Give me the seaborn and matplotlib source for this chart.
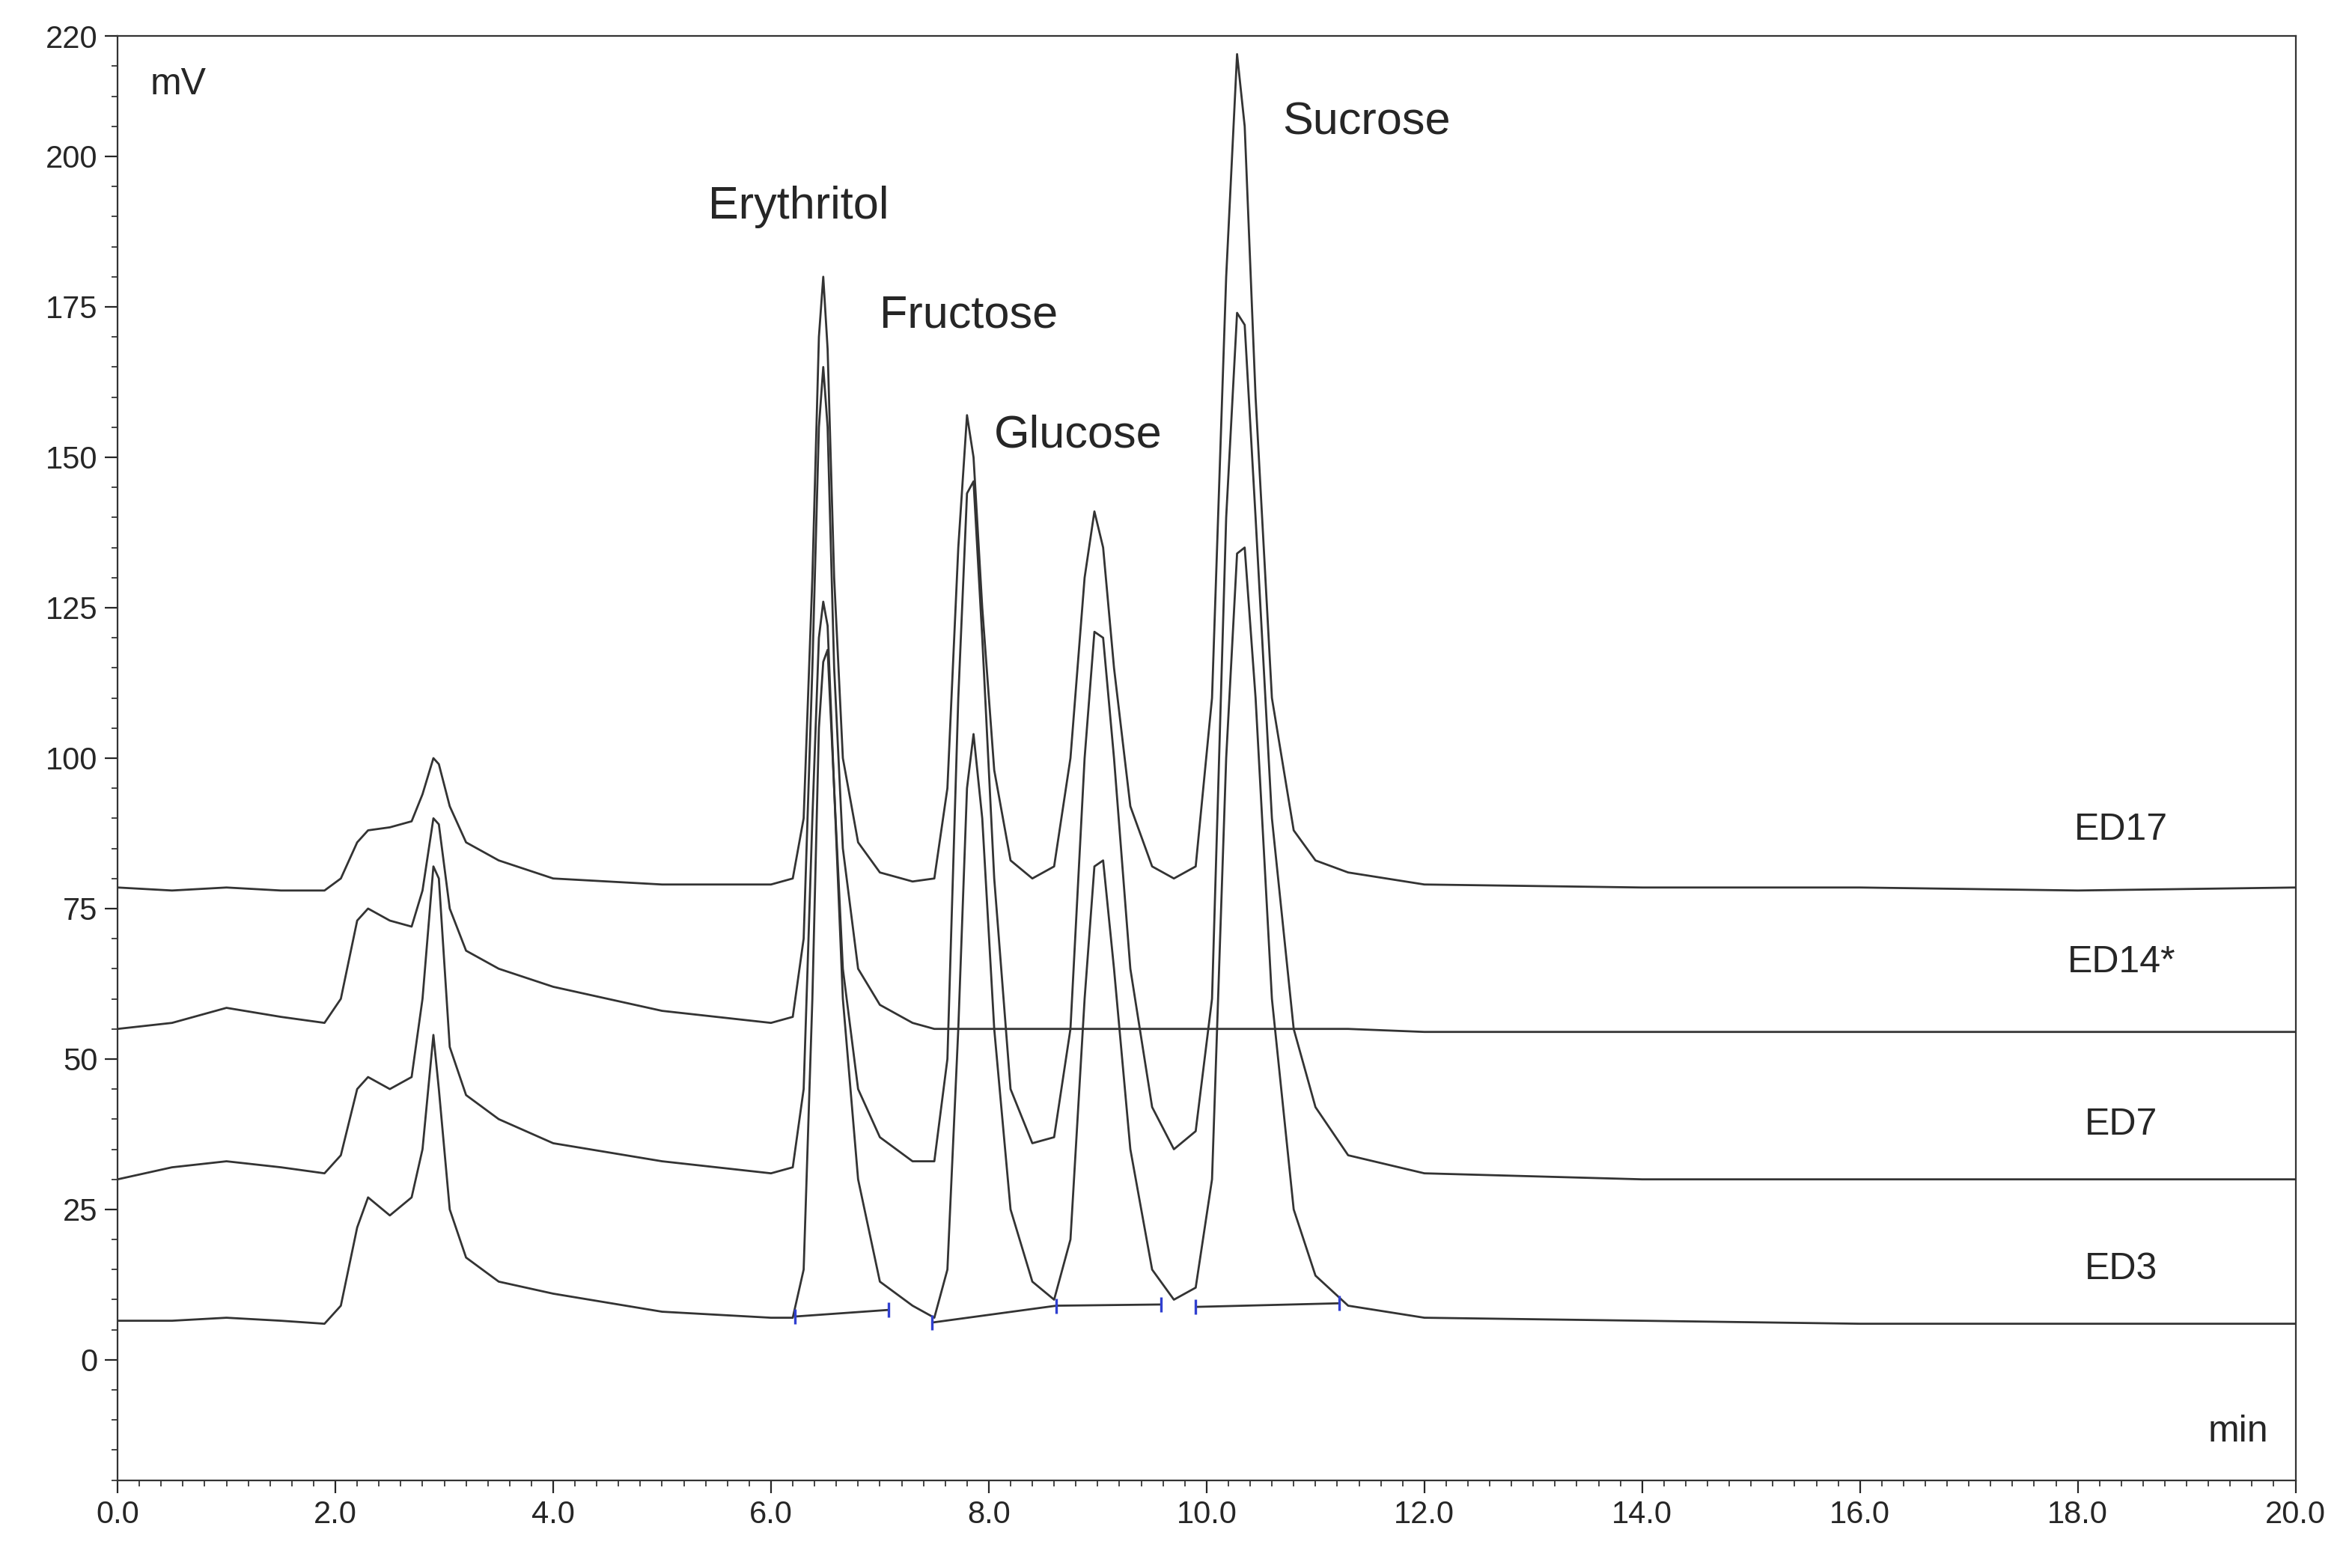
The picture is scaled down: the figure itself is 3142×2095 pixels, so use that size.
import numpy as np
import pandas as pd
import matplotlib
matplotlib.use("Agg")
import matplotlib.pyplot as plt
import seaborn as sns
from matplotlib.ticker import MultipleLocator

sns.set_style("ticks")
plt.rcParams['font.family'] = ['Liberation Sans', 'DejaVu Sans']

# time grid (min)
t = [0, 0.5, 1.0, 1.5, 1.9, 2.05, 2.2, 2.3, 2.5, 2.7, 2.8, 2.9, 2.95, 3.05, 3.2, 3.5, 4.0, 5.0,
     6.0, 6.2, 6.3, 6.38, 6.44, 6.48, 6.52, 6.58, 6.66, 6.8, 7.0, 7.3, 7.5, 7.62, 7.72, 7.8,
     7.86, 7.94, 8.05, 8.2, 8.4, 8.6, 8.75, 8.88, 8.97, 9.05, 9.15, 9.3, 9.5, 9.7, 9.9, 10.05,
     10.18, 10.28, 10.35, 10.45, 10.6, 10.8, 11.0, 11.3, 12.0, 14.0, 16.0, 18.0, 20.0]

ed17 = [78.5, 78, 78.5, 78, 78, 80, 86, 88, 88.5, 89.5, 94, 100, 99, 92, 86, 83, 80, 79,
        79, 80, 90, 130, 170, 180, 168, 130, 100, 86, 81, 79.5, 80, 95, 135, 157,
        150, 125, 98, 83, 80, 82, 100, 130, 141, 135, 115, 92, 82, 80, 82, 110,
        180, 217, 205, 160, 110, 88, 83, 81, 79, 78.5, 78.5, 78, 78.5]
ed14 = [55, 56, 58.5, 57, 56, 60, 73, 75, 73, 72, 78, 90, 89, 75, 68, 65, 62, 58,
        56, 57, 70, 115, 155, 165, 155, 115, 85, 65, 59, 56, 55, 55, 55, 55,
        55, 55, 55, 55, 55, 55, 55, 55, 55, 55, 55, 55, 55, 55, 55, 55,
        55, 55, 55, 55, 55, 55, 55, 55, 54.5, 54.5, 54.5, 54.5, 54.5]
ed7 = [30, 32, 33, 32, 31, 34, 45, 47, 45, 47, 60, 82, 80, 52, 44, 40, 36, 33,
       31, 32, 45, 90, 120, 126, 122, 95, 65, 45, 37, 33, 33, 50, 110, 144,
       146, 120, 80, 45, 36, 37, 55, 100, 121, 120, 100, 65, 42, 35, 38, 60,
       140, 174, 172, 140, 90, 55, 42, 34, 31, 30, 30, 30, 30]
ed3 = [6.5, 6.5, 7, 6.5, 6, 9, 22, 27, 24, 27, 35, 54, 45, 25, 17, 13, 11, 8,
       7, 7, 15, 60, 105, 116, 118, 95, 60, 30, 13, 9, 7, 15, 55, 95,
       104, 90, 55, 25, 13, 10, 20, 60, 82, 83, 65, 35, 15, 10, 12, 30,
       100, 134, 135, 110, 60, 25, 14, 9, 7, 6.5, 6, 6, 6]

traces = {"ED17": ed17, "ED14*": ed14, "ED7": ed7, "ED3": ed3}
trace_labels = [("ED17", 18.4, 88), ("ED14*", 18.4, 66), ("ED7", 18.4, 39), ("ED3", 18.4, 15)]

# integration baselines on ED3
base_t = [[6.22, 7.08], [7.48, 8.62, 9.58], [9.9, 11.22]]
base_y = [[7.2, 8.3], [6.2, 9.0, 9.2], [8.8, 9.4]]

peaks = [("Erythritol", 5.42, 188), ("Fructose", 7.0, 170), ("Glucose", 8.05, 150), ("Sucrose", 10.7, 202)]

yticks = [0, 25, 50, 75, 100, 125, 150, 175, 200, 220]
xticks = np.arange(0, 20.1, 2)

df = pd.concat([pd.DataFrame({"t": t, "mV": v, "trace": k}) for k, v in traces.items()])

fig = plt.figure(figsize=(15.71, 10.475), dpi=200)
ax = fig.add_axes([0.05, 0.056, 0.926, 0.921])
sns.lineplot(data=df, x="t", y="mV", units="trace", estimator=None, color="#333333",
             lw=1.0, ax=ax, legend=False, sort=False)
for bt, by in zip(base_t, base_y):
    ax.plot(bt, by, color="#333333", lw=1.0)
    ax.plot(bt, by, ls="none", marker="|", ms=7, color="#3040d0", mew=1.2)

for name, x, y in peaks:
    ax.text(x, y, name, fontsize=22, va="bottom")
for name, x, y in trace_labels:
    ax.text(x, y, name, fontsize=18, ha="center", va="center")
ax.text(0.3, 212, "mV", fontsize=18, va="center")
ax.text(19.75, -12, "min", fontsize=18, ha="right", va="center")

ax.set_xlim(0, 20)
ax.set_ylim(-20, 220)
ax.set_xticks(xticks)
ax.set_xticklabels([f"{v:.1f}" for v in xticks])
ax.set_yticks(yticks)
ax.xaxis.set_minor_locator(MultipleLocator(0.2))
ax.yaxis.set_minor_locator(MultipleLocator(5))
ax.tick_params(labelsize=15, direction="out", length=6)
ax.tick_params(which="minor", length=3)
ax.set_xlabel("")
ax.set_ylabel("")
for s in ax.spines.values():
    s.set_color("#333333")
fig.savefig("out.png", dpi=200)
